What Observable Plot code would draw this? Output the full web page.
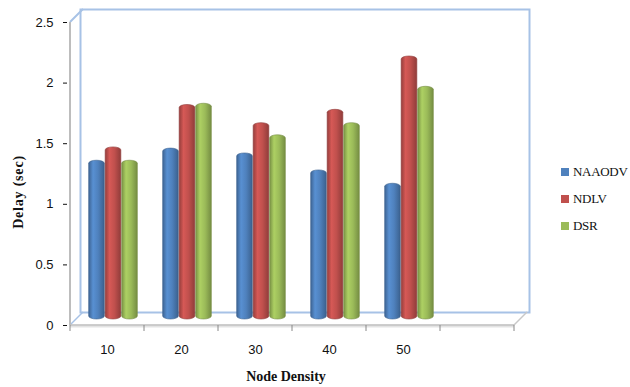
<!DOCTYPE html>
<html><head><meta charset="utf-8">
<script src="https://cdn.jsdelivr.net/npm/d3@7"></script>
<script src="https://cdn.jsdelivr.net/npm/@observablehq/plot@0.6"></script>
<style>
body{margin:0;background:#fff}
#wrap{position:relative;width:630px;height:387px;overflow:hidden;background:#fff}
.lab{position:absolute;font-family:"Liberation Serif",serif;color:#111;white-space:nowrap}
.leg{position:absolute;font-family:"Liberation Serif",serif;font-size:13px;letter-spacing:-0.3px;color:#111;white-space:nowrap;line-height:14px}
.sw{position:absolute;width:8px;height:8px}
</style>
</head><body><div id="wrap"></div>
<script>
const densities = ["10","20","30","40","50"];
const series = ["NAAODV","NDLV","DSR"];
const naaodv = [1.31,1.41,1.37,1.23,1.12];
const ndlv   = [1.42,1.77,1.62,1.73,2.17];
const dsr    = [1.31,1.78,1.52,1.62,1.92];
const yTicks = [0,0.5,1,1.5,2,2.5];
const colors = ["#4F81BD","#C0504D","#9BBB59"];
const slots = [...densities, " "]; // empty sixth slot as in the original

const values = [naaodv, ndlv, dsr];
const rows = [];
series.forEach((s,i)=>densities.forEach((d,j)=>rows.push({density:d, series:s, value:values[i][j]})));

const W=630,H=387,mL=67,mR=114,mT=22,mB=62;
const band=(W-mL-mR)/slots.length;
const barW=16.5, groupOff=(band-3*barW)/2;
const depth=13, half=6;

const barMarks = series.map((s,i)=>Plot.barY(rows.filter(r=>r.series===s),{
  x:"density", y:"value", fill:colors[i],
  stroke:d3.color(colors[i]).darker(0.8).formatHex(), strokeWidth:0.6,
  insetLeft:groupOff+i*barW, insetRight:band-groupOff-(i+1)*barW,
  dx:half, dy:-half, rx:8, ry:3
}));

const chart = Plot.plot({
  width:W, height:H, marginLeft:mL, marginRight:mR, marginTop:mT, marginBottom:mB,
  style:{fontFamily:"'Liberation Sans',Arial,sans-serif", fontSize:"13px", color:"#111", background:"#fff"},
  x:{domain:slots, padding:0, tickSize:0, tickPadding:19, label:null},
  y:{domain:[0,2.5], ticks:yTicks, tickFormat:d=>String(d), tickSize:4, tickPadding:10, label:null},
  marks:[
    Plot.frame({dx:depth, dy:-depth, stroke:"#A7C2E6", strokeWidth:2}),
    ...barMarks
  ]
});

const svg = d3.select(chart);
const defs = svg.insert("defs", ":first-child");
colors.forEach((c,i)=>{
  const b=d3.color(c);
  const g=defs.append("linearGradient").attr("id","cyl"+i).attr("x1",0).attr("x2",1).attr("y1",0).attr("y2",0);
  g.append("stop").attr("offset","0%").attr("stop-color",b.darker(0.7).formatHex());
  g.append("stop").attr("offset","28%").attr("stop-color",b.brighter(0.3).formatHex());
  g.append("stop").attr("offset","60%").attr("stop-color",b.formatHex());
  g.append("stop").attr("offset","100%").attr("stop-color",b.darker(0.8).formatHex());
});
const barGroups = chart.querySelectorAll('g[aria-label="bar"]');
barGroups.forEach((g,i)=>{ g.setAttribute("fill","url(#cyl"+i+")"); g.querySelectorAll("rect").forEach(r=>r.removeAttribute("fill")); });

const xs = chart.scale("x"), ys = chart.scale("y");
const x0 = xs.apply(slots[0]), x1 = xs.apply(slots[slots.length-1]) + xs.bandwidth;
const y0 = ys.apply(0), yT = ys.apply(2.5);
const deco = svg.insert("g", "g[aria-label='bar']").attr("fill","none");
deco.append("line").attr("x1",x0).attr("y1",yT).attr("x2",x0+depth).attr("y2",yT-depth).attr("stroke","#A7C2E6").attr("stroke-width",2);
deco.append("line").attr("x1",x0).attr("y1",y0).attr("x2",x0+depth).attr("y2",y0-depth).attr("stroke","#A7C2E6").attr("stroke-width",1.5);
deco.append("line").attr("x1",x1).attr("y1",y0).attr("x2",x1+depth).attr("y2",y0-depth).attr("stroke","#C8C8C8").attr("stroke-width",1.5);
deco.append("line").attr("x1",x0).attr("y1",y0+1.5).attr("x2",x1).attr("y2",y0+1.5).attr("stroke","#E3E3E3").attr("stroke-width",2);
deco.append("line").attr("x1",x0).attr("y1",y0).attr("x2",x1).attr("y2",y0).attr("stroke","#BDBDBD").attr("stroke-width",1.5);
deco.append("line").attr("x1",x0).attr("y1",yT).attr("x2",x0).attr("y2",y0).attr("stroke","#BDBDBD").attr("stroke-width",2);
slots.concat(["end"]).forEach((s,k)=>{
  const xx = x0 + k*xs.bandwidth;
  deco.append("line").attr("x1",xx).attr("y1",y0).attr("x2",xx).attr("y2",y0+6).attr("stroke","#888").attr("stroke-width",1);
});

const wrap = document.getElementById("wrap");
wrap.appendChild(chart);
chart.style.position="absolute"; chart.style.left="0"; chart.style.top="0";

function addLab(text, x, y, rot, size, ls){
  const d=document.createElement("div"); d.className="lab"; d.textContent=text;
  d.style.fontSize=size+"px"; d.style.fontWeight="bold"; d.style.letterSpacing=ls+"px";
  d.style.left=x+"px"; d.style.top=y+"px";
  d.style.transform="translate(-50%,-50%)"+(rot?" rotate(-90deg)":"");
  wrap.appendChild(d);
}
addLab("Delay (sec)", 19, 192, true, 14, 0.8);
addLab("Node Density", 286, 377, false, 14, 0);

const legY=[172,199,226];
series.forEach((s,i)=>{
  const sw=document.createElement("div"); sw.className="sw"; sw.style.background=colors[i];
  sw.style.left="561px"; sw.style.top=(legY[i]-4)+"px"; wrap.appendChild(sw);
  const t=document.createElement("div"); t.className="leg"; t.textContent=s;
  t.style.left="573px"; t.style.top=(legY[i]-7)+"px"; wrap.appendChild(t);
});
</script>
</body></html>
